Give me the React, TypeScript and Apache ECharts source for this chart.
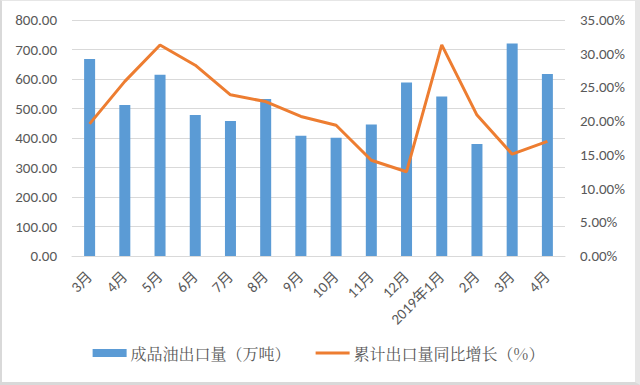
import React, { useEffect, useRef } from "react";
import * as echarts from "echarts";

const categories = ["3月", "4月", "5月", "6月", "7月", "8月", "9月", "10月", "11月", "12月", "2019年1月", "2月", "3月", "4月"];
const exportVolume = [668, 512, 614, 478, 458, 532, 408, 401, 446, 588, 541, 380, 720, 617];
const growthPct = [19.6, 25.9, 31.3, 28.3, 23.9, 22.9, 20.7, 19.4, 14.2, 12.5, 31.3, 20.9, 15.1, 17.0];

export default function App() {
  const ref = useRef<HTMLDivElement>(null);
  useEffect(() => {
    if (!ref.current) return;
    const chart = echarts.init(ref.current, null, { renderer: "svg" });
    const labelColor = "#595959";
    const font = "Calibri, Carlito, 'Open Sans', 'Noto Sans CJK SC', sans-serif";
    chart.setOption({
      animation: false,
      textStyle: { fontFamily: font },
      legend: {
        bottom: 16,
        left: "center",
        itemGap: 25,
        itemWidth: 34,
        itemHeight: 8,
        textStyle: { color: labelColor, fontSize: 16, padding: [0, 0, 0, -1], fontFamily: "'Noto Serif CJK SC', 'Noto Sans CJK SC', serif" },
        data: [
          { name: "成品油出口量（万吨）", icon: "rect" },
          { name: "累计出口量同比增长（%）", icon: "path://M0,0 L34,0 L34,3 L0,3 Z", itemStyle: { color: "#ED7D31" } },
        ],
      },
      grid: { left: 70, right: 70, top: 19, bottom: 126, containLabel: false },
      xAxis: {
        type: "category",
        data: categories,
        axisLine: { lineStyle: { color: "#d9d9d9" } },
        axisTick: { show: false },
        axisLabel: { rotate: 45, color: labelColor, fontSize: 15, margin: 18, interval: 0 },
      },
      yAxis: [
        {
          type: "value",
          min: 0,
          max: 800,
          interval: 100,
          axisLine: { show: false },
          axisTick: { show: false },
          splitLine: { lineStyle: { color: "#d9d9d9" } },
          axisLabel: { color: labelColor, fontSize: 15, margin: 15, formatter: (v: number) => v.toFixed(2) },
        },
        {
          type: "value",
          min: 0,
          max: 35,
          interval: 5,
          axisLine: { show: false },
          axisTick: { show: false },
          splitLine: { show: false },
          axisLabel: { color: labelColor, fontSize: 15, margin: 15, formatter: (v: number) => v.toFixed(2) + "%" },
        },
      ],
      series: [
        {
          name: "成品油出口量（万吨）",
          type: "bar",
          data: exportVolume,
          barWidth: 11,
          itemStyle: { color: "#5B9BD5" },
        },
        {
          name: "累计出口量同比增长（%）",
          type: "line",
          yAxisIndex: 1,
          data: growthPct,
          symbol: "none",
          lineStyle: { color: "#ED7D31", width: 3 },
          itemStyle: { color: "#ED7D31" },
        },
      ],
    });
    return () => chart.dispose();
  }, []);
  return (
    <div
      style={{
        position: "fixed",
        left: 0,
        top: 0,
        width: 640,
        height: 385,
        background: "#fff",
        boxSizing: "border-box",
        borderLeft: "2px solid #d9d9d9",
        borderTop: "1px solid #e6e6e6",
        borderRight: "5px solid #e6e6e6",
        borderBottom: "3px solid #d9d9d9",
      }}
    >
      <div ref={ref} style={{ width: 633, height: 381 }} />
    </div>
  );
}
